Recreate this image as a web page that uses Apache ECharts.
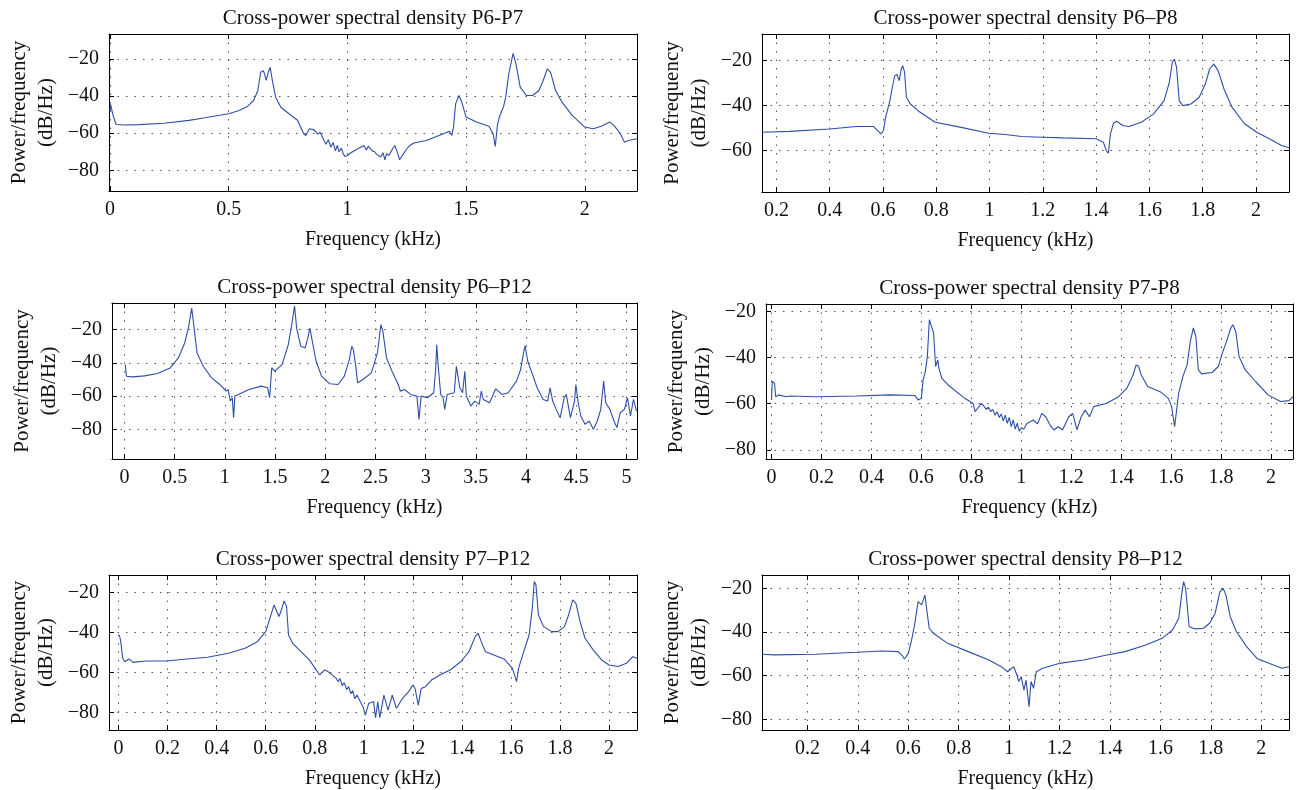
<!DOCTYPE html>
<html>
<head>
<meta charset="utf-8">
<script src="https://cdn.jsdelivr.net/npm/echarts@6/dist/echarts.min.js"></script>
<style>
html,body{margin:0;padding:0;background:#fff;}
#chart{width:1297px;height:790px;}
</style>
</head>
<body>
<div id="chart"></div>
<script>
// ---- data: [frequency (kHz), power/frequency (dB/Hz)] ----
const titles = [
  'Cross-power spectral density P6-P7',
  'Cross-power spectral density P6\u2013P8',
  'Cross-power spectral density P6\u2013P12',
  'Cross-power spectral density P7-P8',
  'Cross-power spectral density P7\u2013P12',
  'Cross-power spectral density P8\u2013P12'
];

const psdP6P7 = [[0,-48.6],[0.003,-44.5],[0.012,-50],[0.026,-55.3],[0.06,-55.6],[0.12,-55.4],[0.228,-54.6],[0.333,-53.1],[0.40,-51.7],[0.5,-49.5],[0.544,-47.8],[0.579,-45.6],[0.605,-42.4],[0.623,-37],[0.635,-27.2],[0.646,-26.3],[0.652,-28.5],[0.658,-31.6],[0.667,-27.2],[0.675,-24.5],[0.684,-31.6],[0.698,-40.6],[0.72,-46],[0.754,-49.5],[0.79,-53],[0.816,-60.3],[0.825,-61.2],[0.84,-57.6],[0.86,-58.2],[0.875,-60.5],[0.885,-59.5],[0.895,-62],[0.902,-64],[0.91,-66],[0.92,-63.5],[0.93,-67.5],[0.94,-65],[0.95,-69.5],[0.958,-66.5],[0.965,-70],[0.975,-68],[0.982,-71],[0.99,-72.5],[1.0,-72],[1.015,-70.5],[1.035,-69],[1.05,-68],[1.07,-66.6],[1.08,-69],[1.088,-67],[1.105,-69.5],[1.115,-70],[1.123,-71.4],[1.14,-72.8],[1.15,-70.5],[1.158,-74.3],[1.165,-71],[1.175,-72],[1.19,-68.5],[1.2,-66.6],[1.21,-70],[1.22,-74.3],[1.237,-71],[1.25,-68.5],[1.263,-66.6],[1.28,-65.3],[1.333,-63.9],[1.386,-61.2],[1.43,-59],[1.44,-61.2],[1.447,-56.7],[1.456,-44.2],[1.47,-39.7],[1.482,-43.3],[1.5,-51.3],[1.544,-54],[1.596,-56.3],[1.614,-60.3],[1.623,-67.1],[1.632,-55.8],[1.64,-51.3],[1.658,-45.6],[1.667,-40.6],[1.68,-28],[1.698,-17],[1.71,-22.7],[1.728,-35.2],[1.754,-39.7],[1.78,-39.7],[1.807,-37],[1.825,-31.6],[1.842,-25.4],[1.856,-27.2],[1.877,-37],[1.904,-43.3],[1.947,-50.4],[2.0,-56.7],[2.035,-57.6],[2.07,-56.3],[2.105,-54],[2.123,-55.8],[2.15,-60.3],[2.167,-64.8],[2.184,-63.9],[2.22,-63]];

const psdP6P8 = [[0.146,-51.9],[0.25,-51.5],[0.4,-50.4],[0.5,-49.3],[0.564,-49.3],[0.584,-51.6],[0.592,-52.6],[0.602,-51.1],[0.61,-45.2],[0.626,-37.8],[0.634,-32.6],[0.644,-26.7],[0.653,-26.2],[0.661,-28.9],[0.669,-23.7],[0.674,-22.2],[0.681,-25],[0.688,-36.3],[0.703,-39.3],[0.734,-42.5],[0.796,-47.4],[0.889,-49.6],[0.997,-52.3],[1.059,-52.9],[1.121,-53.8],[1.198,-54.1],[1.276,-54.4],[1.4,-54.8],[1.427,-56.3],[1.438,-60],[1.446,-61.2],[1.454,-52.6],[1.465,-47.9],[1.477,-47],[1.5,-48.9],[1.523,-49.3],[1.57,-47.4],[1.616,-43.7],[1.655,-37.8],[1.675,-29.6],[1.686,-20.7],[1.694,-19.3],[1.702,-23],[1.712,-37.8],[1.725,-40],[1.756,-39.3],[1.787,-36.3],[1.81,-30.4],[1.826,-23.7],[1.842,-21.5],[1.858,-24.4],[1.88,-32.6],[1.91,-40.7],[1.957,-48.1],[2.003,-51.9],[2.05,-54.8],[2.096,-57.8],[2.124,-58.8]];

const psdP6P12 = [[0.008,-41],[0.02,-48],[0.083,-48.4],[0.2,-47.8],[0.33,-46.4],[0.455,-43],[0.537,-37],[0.6,-28],[0.64,-18],[0.67,-7],[0.694,-19],[0.723,-34],[0.785,-42],[0.868,-49],[0.95,-53],[1.012,-57],[1.033,-56],[1.054,-63],[1.074,-61],[1.087,-73],[1.1,-60],[1.136,-59],[1.24,-56],[1.364,-54],[1.426,-55],[1.446,-61],[1.467,-43],[1.496,-45],[1.57,-41],[1.632,-29],[1.674,-14],[1.694,-5.6],[1.715,-19],[1.756,-30],[1.8,-31],[1.826,-25],[1.847,-19],[1.868,-26],[1.909,-39],[1.963,-48],[2.045,-52.6],[2.128,-53],[2.19,-48],[2.24,-38],[2.264,-30],[2.28,-32],[2.306,-43],[2.322,-52],[2.376,-50],[2.459,-46],[2.52,-34],[2.554,-17],[2.574,-21],[2.61,-37],[2.665,-45],[2.727,-53],[2.748,-57],[2.79,-56],[2.85,-59],[2.913,-60],[2.934,-74],[2.955,-60],[3.017,-61],[3.08,-58],[3.1,-44],[3.11,-29],[3.128,-44],[3.15,-59],[3.174,-61],[3.19,-68],[3.215,-59],[3.285,-58],[3.306,-42],[3.318,-41],[3.34,-55],[3.368,-58],[3.39,-45],[3.405,-60],[3.45,-66],[3.49,-63],[3.533,-65],[3.554,-57],[3.574,-62],[3.636,-64],[3.698,-55.6],[3.76,-59],[3.822,-58],[3.905,-51],[3.946,-44],[3.975,-34],[3.99,-29.6],[4.017,-39],[4.07,-48],[4.11,-55],[4.17,-62],[4.215,-63],[4.24,-55],[4.265,-63],[4.3,-68],[4.34,-73],[4.38,-61],[4.4,-59],[4.442,-73],[4.483,-63],[4.496,-53],[4.517,-63],[4.545,-72],[4.587,-77],[4.628,-75],[4.67,-80],[4.71,-75],[4.744,-68],[4.773,-51],[4.793,-64],[4.835,-68],[4.876,-75],[4.905,-79],[4.938,-70],[4.98,-68],[5.01,-61],[5.04,-72],[5.07,-62],[5.1,-69]];

const psdP7P8 = [[0,-58.4],[0.003,-50.4],[0.012,-51.1],[0.017,-57],[0.028,-56.2],[0.058,-57],[0.075,-56.7],[0.175,-57],[0.341,-56.7],[0.474,-56.2],[0.574,-56.5],[0.587,-58.4],[0.6,-57.7],[0.607,-49.7],[0.616,-46],[0.624,-39.6],[0.632,-23.6],[0.64,-23.3],[0.649,-29.4],[0.657,-43.9],[0.666,-41],[0.67,-44.6],[0.682,-49],[0.707,-51.9],[0.774,-57.7],[0.807,-59.9],[0.815,-63.5],[0.84,-59.9],[0.85,-61],[0.86,-62.5],[0.868,-61.5],[0.878,-63.5],[0.886,-62.5],[0.895,-65],[0.903,-63.5],[0.912,-66],[0.92,-64.5],[0.928,-67.5],[0.936,-65],[0.944,-68.5],[0.952,-66],[0.96,-70],[0.968,-67],[0.976,-71],[0.984,-68.5],[0.992,-72],[1.0,-70.5],[1.01,-71],[1.023,-68.6],[1.048,-67.1],[1.065,-68.8],[1.082,-64.2],[1.098,-65.7],[1.115,-69.3],[1.131,-71.4],[1.148,-70],[1.165,-71.4],[1.19,-65.7],[1.206,-64.2],[1.223,-71.4],[1.24,-65.7],[1.256,-62.8],[1.273,-65.7],[1.29,-61.3],[1.34,-59.9],[1.39,-57],[1.423,-53.3],[1.448,-47.5],[1.46,-43.2],[1.47,-43.9],[1.48,-47.5],[1.506,-52.6],[1.556,-54.8],[1.589,-57.7],[1.602,-61.3],[1.614,-70],[1.622,-62.8],[1.63,-55.5],[1.647,-48.3],[1.664,-43.2],[1.677,-33],[1.689,-27.2],[1.699,-30.9],[1.709,-45.4],[1.722,-47.1],[1.764,-46.5],[1.789,-43.9],[1.805,-38.1],[1.822,-33],[1.839,-27.2],[1.847,-25.8],[1.859,-28.7],[1.872,-39.6],[1.897,-45.4],[1.938,-50.4],[1.988,-56.2],[2.038,-59.1],[2.072,-58.7],[2.088,-57]];

const psdP7P12 = [[0.003,-41.3],[0.008,-43.8],[0.017,-52.9],[0.025,-54.6],[0.042,-53.2],[0.059,-54.9],[0.11,-54.2],[0.194,-54.2],[0.279,-53.2],[0.363,-52.4],[0.448,-50.4],[0.516,-47.9],[0.566,-44.6],[0.6,-39.6],[0.617,-33],[0.634,-26.3],[0.642,-26],[0.654,-32.1],[0.664,-28.8],[0.675,-24.3],[0.685,-27.1],[0.693,-41.3],[0.71,-45.4],[0.744,-49.6],[0.778,-53.7],[0.82,-61.2],[0.828,-62],[0.84,-58.7],[0.854,-59.5],[0.888,-62.9],[0.895,-64.5],[0.903,-63],[0.912,-66.5],[0.92,-65],[0.93,-68.5],[0.938,-67],[0.947,-70.5],[0.955,-69],[0.963,-73],[0.972,-71.2],[0.989,-75.3],[0.997,-77],[1.006,-81.2],[1.02,-75.3],[1.04,-74.5],[1.048,-82.5],[1.057,-74.5],[1.065,-82.5],[1.082,-71.2],[1.099,-78.7],[1.116,-71.2],[1.133,-77.8],[1.158,-72.8],[1.183,-69.5],[1.2,-66.2],[1.209,-67.9],[1.222,-76.2],[1.234,-67.9],[1.251,-67],[1.276,-63.7],[1.31,-61.2],[1.352,-58.7],[1.395,-54.6],[1.429,-49.6],[1.454,-42.1],[1.466,-40.4],[1.479,-44.6],[1.496,-49.6],[1.53,-51.2],[1.572,-53.2],[1.606,-57.9],[1.623,-64.5],[1.631,-57.9],[1.648,-51.2],[1.674,-41.3],[1.687,-28],[1.695,-14.7],[1.702,-16.3],[1.712,-31.3],[1.733,-37.1],[1.767,-39.6],[1.792,-39.6],[1.818,-37.1],[1.835,-31.3],[1.852,-23.8],[1.865,-25.5],[1.882,-34.6],[1.902,-42.9],[1.936,-48.8],[1.97,-53.7],[2.0,-56.2],[2.037,-57],[2.071,-55.4],[2.097,-52.1],[2.114,-52.9]];

const psdP8P12 = [[0.02,-50.2],[0.069,-50.5],[0.233,-50.2],[0.396,-49.3],[0.495,-48.7],[0.56,-49],[0.576,-50.8],[0.585,-52.4],[0.6,-49.8],[0.612,-44.4],[0.625,-36.8],[0.639,-26.1],[0.645,-25.3],[0.653,-27.6],[0.658,-28.4],[0.666,-23.1],[0.671,-23.4],[0.683,-38.3],[0.7,-40.6],[0.756,-45.2],[0.838,-49],[0.92,-52.8],[0.969,-55.9],[0.994,-58.2],[1.018,-55.9],[1.031,-59.7],[1.038,-62.7],[1.048,-60.5],[1.059,-66.6],[1.067,-62],[1.079,-74.2],[1.087,-62.7],[1.097,-65.8],[1.108,-58.2],[1.133,-56.6],[1.198,-54.4],[1.296,-52.8],[1.378,-50.8],[1.46,-49],[1.542,-46],[1.607,-42.9],[1.648,-39.1],[1.673,-33.7],[1.684,-23.1],[1.692,-16.9],[1.7,-20],[1.714,-37.6],[1.738,-38.6],[1.771,-38.3],[1.795,-36],[1.817,-31.5],[1.836,-21.5],[1.849,-20],[1.86,-23.1],[1.877,-33],[1.901,-39.8],[1.942,-46.7],[1.983,-52.1],[2.033,-54.4],[2.082,-56.6],[2.11,-55.9]];

const seriesData = [psdP6P7, psdP6P8, psdP6P12, psdP7P8, psdP7P12, psdP8P12];

// axis ranges and tick values
const xRanges = [[-0.004, 2.22], [0.146, 2.124], [-0.124, 5.105], [-0.022, 2.088], [-0.039, 2.114], [0.02, 2.11]];
const yRanges = [[-91.1, -6.6], [-78.5, -8.1], [-97.9, -3.9], [-84, -16.8], [-88.6, -11.4], [-84.9, -13.9]];
const xTicksHalf = [0, 0.5, 1, 1.5, 2];
const xTicksFive = [0, 0.5, 1, 1.5, 2, 2.5, 3, 3.5, 4, 4.5, 5];
const xTicksFrom0 = [0, 0.2, 0.4, 0.6, 0.8, 1, 1.2, 1.4, 1.6, 1.8, 2];
const xTicksFrom02 = [0.2, 0.4, 0.6, 0.8, 1, 1.2, 1.4, 1.6, 1.8, 2];
const xTicks = [xTicksHalf, xTicksFrom02, xTicksFive, xTicksFrom0, xTicksFrom0, xTicksFrom02];
const yTicks4 = [-80, -60, -40, -20];
const yTicks3 = [-60, -40, -20];
const yTicks = [yTicks4, yTicks3, yTicks4, yTicks4, yTicks4, yTicks4];

const xName = 'Frequency (kHz)';
const yName = 'Power/frequency\n(dB/Hz)';

// ---- layout / style ----
const layout = [
  {left: 109, top: 34, width: 528, height: 157},
  {left: 762, top: 34, width: 527, height: 158},
  {left: 112, top: 303, width: 525, height: 156},
  {left: 766, top: 304, width: 527, height: 155},
  {left: 109, top: 575, width: 528, height: 155},
  {left: 762, top: 575, width: 527, height: 155}
];
const FONT = 'Liberation Serif';
const LINE = '#2f4ea6';
const TXT = '#111';
const fmt = v => String(v).replace('-', '\u2212');
const gridLine = {show: true, lineStyle: {color: '#555', width: 1, type: [1.5, 7]}};

const grid = [], xAxis = [], yAxis = [], series = [];
layout.forEach((g, i) => {
  grid.push({left: g.left, top: g.top, width: g.width, height: g.height, containLabel: false});
  const common = {type: 'value', gridIndex: i, axisLine: {show: true, onZero: false, lineStyle: {color: '#000', width: 1}}};
  // bottom x axis
  xAxis.push(Object.assign({}, common, {
    position: 'bottom', min: xRanges[i][0], max: xRanges[i][1],
    name: xName, nameLocation: 'middle', nameGap: 39,
    nameTextStyle: {fontFamily: FONT, fontSize: 20, color: TXT},
    axisTick: {show: true, inside: true, length: 5, customValues: xTicks[i], lineStyle: {color: '#000'}},
    axisLabel: {show: true, customValues: xTicks[i], formatter: fmt, margin: 9, fontFamily: FONT, fontSize: 20, color: TXT},
    splitLine: gridLine
  }));
  // top x axis (frame + title)
  xAxis.push(Object.assign({}, common, {
    position: 'top', min: xRanges[i][0], max: xRanges[i][1],
    name: titles[i], nameLocation: 'middle', nameGap: 5,
    nameTextStyle: {fontFamily: FONT, fontSize: 21, color: TXT},
    axisTick: {show: true, inside: true, length: 5, customValues: xTicks[i], lineStyle: {color: '#000'}},
    axisLabel: {show: false}, splitLine: {show: false}
  }));
  // left y axis
  yAxis.push(Object.assign({}, common, {
    position: 'left', min: yRanges[i][0], max: yRanges[i][1],
    name: yName, nameLocation: 'middle', nameGap: 49, nameRotate: 90,
    nameTextStyle: {fontFamily: FONT, fontSize: 21, color: TXT, lineHeight: 27},
    axisTick: {show: true, inside: true, length: 5, customValues: yTicks[i], lineStyle: {color: '#000'}},
    axisLabel: {show: true, customValues: yTicks[i], formatter: fmt, margin: 10, fontFamily: FONT, fontSize: 20, color: TXT},
    splitLine: gridLine
  }));
  // right y axis (frame)
  yAxis.push(Object.assign({}, common, {
    position: 'right', min: yRanges[i][0], max: yRanges[i][1],
    axisTick: {show: true, inside: true, length: 5, customValues: yTicks[i], lineStyle: {color: '#000'}},
    axisLabel: {show: false}, splitLine: {show: false}
  }));
  series.push({
    type: 'line', xAxisIndex: 2 * i, yAxisIndex: 2 * i,
    data: seriesData[i], showSymbol: false, symbol: 'none', smooth: false,
    lineStyle: {color: LINE, width: 1.1}, animation: false, clip: true
  });
});

const chart = echarts.init(document.getElementById('chart'), null, {renderer: 'canvas'});
chart.setOption({backgroundColor: '#fff', animation: false, grid, xAxis, yAxis, series});
</script>
</body>
</html>
